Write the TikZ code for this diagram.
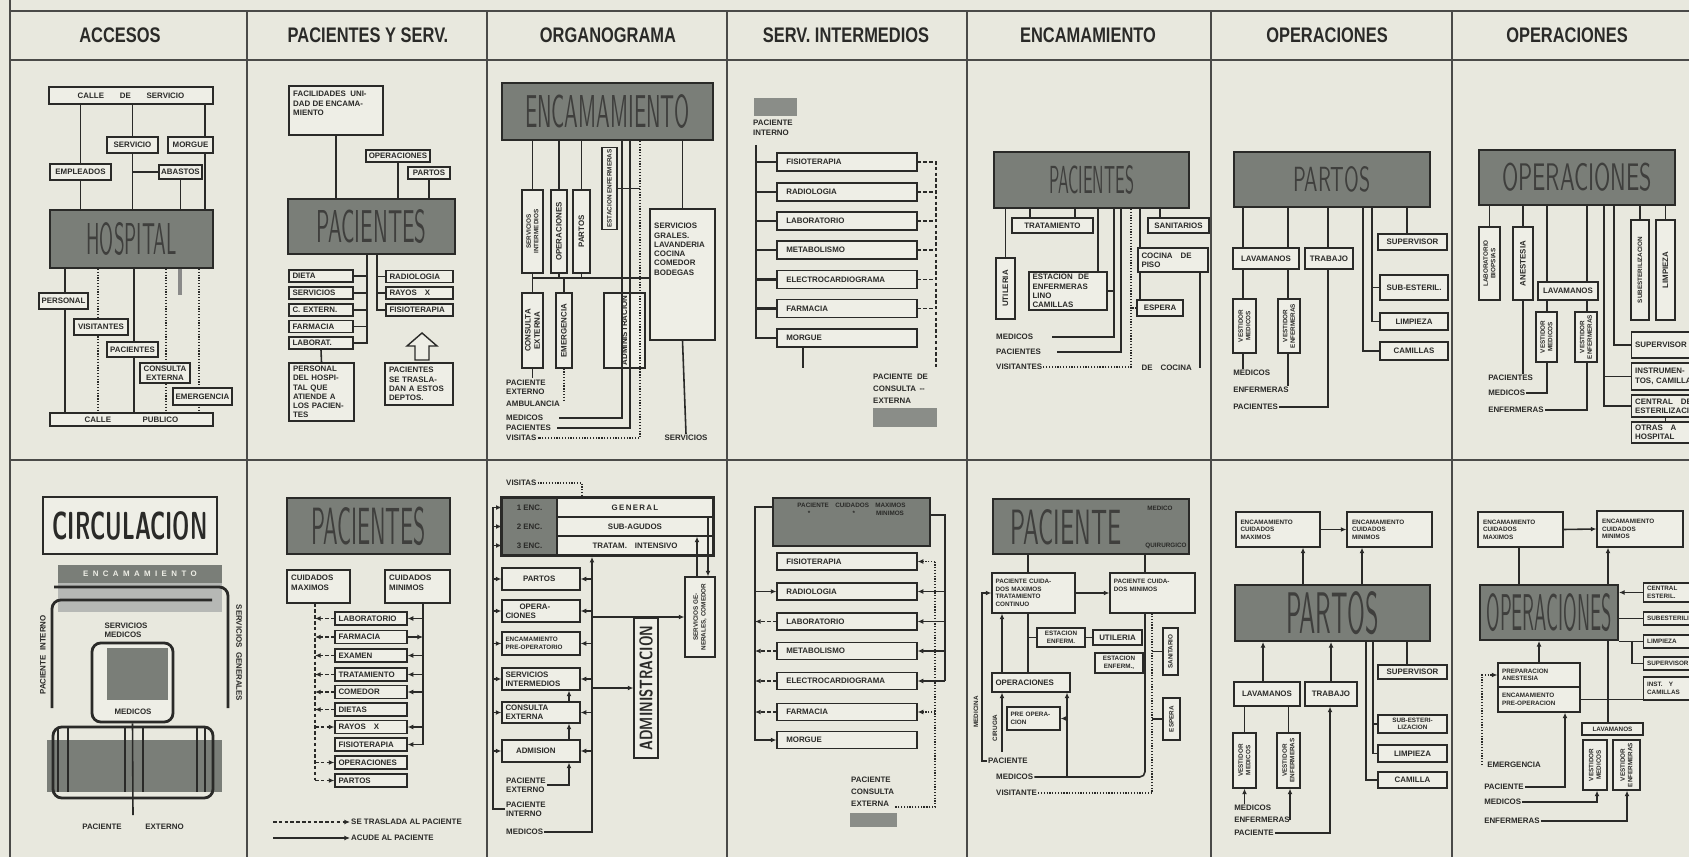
\documentclass[tikz,border=0pt]{standalone}
\usepackage{fontspec}
\usepackage{graphicx}
\usetikzlibrary{arrows.meta, positioning, fit, calc}
\newfontfamily\lblfam{Liberation Sans}
\newfontfamily\headfam{Liberation Sans}[FakeStretch=0.78]
\newcommand{\lblfont}{\lblfam\bfseries\fontsize{4.5}{5.3}\selectfont}
\newcommand{\smfont}{\lblfam\bfseries\fontsize{3.6}{4.3}\selectfont}
\newcommand{\bigword}[3]{\resizebox{#1}{#2}{\sffamily #3}}
\definecolor{paper}{RGB}{232,232,222}
\definecolor{ink}{RGB}{42,42,40}
\definecolor{boxfill}{RGB}{238,238,230}
\definecolor{darkfill}{RGB}{122,126,120}
\definecolor{greyfill}{RGB}{138,141,136}

\begin{document}
\begin{tikzpicture}[
    x=0.02cm, y=-0.02cm,
    sz/.style 2 args={minimum width=#1*0.02cm, minimum height=#2*0.02cm},
    bx/.style={draw=ink, line width=0.7pt, fill=boxfill, font=\lblfont, text=ink,
        inner sep=1pt, align=center},
    lbx/.style={bx, align=left, text width=#1, inner xsep=2pt},
    vbx/.style={bx, rotate=90},
    dk/.style={draw=ink, line width=1.1pt, fill=darkfill, text=ink!90, inner sep=0pt},
    cel/.style={fill=darkfill, font=\lblfont, text=ink, inner sep=0pt},
    gry/.style={fill=greyfill, inner sep=0pt},
    tx/.style={font=\lblfont, text=ink, inner sep=0.5pt, align=left},
    hd/.style={font=\headfam\bfseries\fontsize{12}{12}\selectfont, text=ink},
    frm/.style={draw=ink!85, line width=0.8pt},
    lnk/.style={draw=ink, line width=0.9pt},
    thk/.style={draw=ink, line width=1.6pt, rounded corners=5pt},
    dots/.style={draw=ink, line width=1.1pt, dash pattern=on 0.7pt off 0.9pt},
    dsh/.style={draw=ink, line width=0.7pt, dash pattern=on 2pt off 1.3pt},
    arr/.style={-{Latex[length=3.2pt,width=2.8pt]}}
]
\useasboundingbox (0,0) rectangle (1689,857);
\clip (0,0) rectangle (1689,857);
\fill[paper] (0,0) rectangle (1689,857);

% frame
\draw[frm] (10,0) -- (10,857);
\draw[frm] (10,11) -- (1689,11);
\draw[frm] (10,60) -- (1689,60);
\draw[frm] (10,460) -- (1689,460);
\foreach \cx in {247,487,727,967,1211,1452}
    \draw[frm] (\cx,11) -- (\cx,857);

\node[hd] (h1) at (120,35) {ACCESOS};
\node[hd] (h2) at (368,35) {PACIENTES Y SERV.};
\node[hd] (h3) at (608,35) {ORGANOGRAMA};
\node[hd] (h4) at (846,35) {SERV. INTERMEDIOS};
\node[hd] (h5) at (1088,35) {ENCAMAMIENTO};
\node[hd] (h6) at (1327,35) {OPERACIONES};
\node[hd] (h7) at (1567,35) {OPERACIONES};

% accesos
\node[bx, sz={164}{17}] (cserv) at (131,95.5) {CALLE\qquad DE\qquad SERVICIO};
\node[bx, sz={51}{16}] (servc) at (132.5,145) {SERVICIO};
\node[bx, sz={45}{16}] (morg) at (190.5,145) {MORGUE};
\node[bx, sz={61}{16}] (empl) at (80.5,172) {EMPLEADOS};
\node[bx, sz={43}{14}] (abast) at (180.5,172) {ABASTOS};
\node[dk, sz={163}{58}] (hosp) at (131.5,239) {\bigword{1.8cm}{0.64cm}{HOSPITAL}\hspace{0.38cm}};
\node[bx, sz={163}{13}] (cpub) at (131.5,419.5) {CALLE\qquad\qquad PUBLICO};
\path (205,0) coordinate (x205) (65,0) coordinate (x65) (98,0) coordinate (x98)
      (134,0) coordinate (x134) (166,0) coordinate (x166) (199,0) coordinate (x199)
      (180,295) coordinate (stub1);
\draw[lnk] (cserv.south -| empl) -- (empl.north) (empl.south) -- (hosp.north -| empl);
\draw[lnk] (cserv.south -| servc) -- (servc.north) (servc.south) -- (hosp.north -| servc);
\draw[lnk] (cserv.south -| x205) -- (morg.north -| x205) (morg.south -| x205) -- (hosp.north -| x205);
\draw[lnk] (abast.west) -- (abast.west -| servc) (abast.south) -- (hosp.north -| abast);
\draw[lnk] (hosp.south -| x65) -- (cpub.north -| x65);
\draw[dots] (hosp.south -| x98) -- (cpub.north -| x98);
\draw[lnk] (hosp.south -| x134) -- (cpub.north -| x134);
\draw[dots] (hosp.south -| x166) -- (cpub.north -| x166);
\draw[dots] (hosp.south -| x199) -- (cpub.north -| x199);
\draw[draw=ink!55, line width=2.4pt] (hosp.south -| stub1) -- (stub1);
\node[bx, sz={49}{16}] (pers) at (63.5,301) {PERSONAL};
\node[bx, sz={54}{16}] (visit) at (101,327) {VISITANTES};
\node[bx, sz={51}{15}] (pacs) at (132.5,349.5) {PACIENTES};
\node[bx, sz={50}{20}] (cext) at (165,373) {CONSULTA\\EXTERNA};
\node[bx, sz={59}{17}] (emerg) at (202.5,396.5) {EMERGENCIA};

% pacientes y servicios
\node[bx, sz={94}{49}] (facil) at (336,110.5) {};
\node[tx, anchor=north west] (facilt) at (292,90) {FACILIDADES\ \ UNI-\\DAD DE ENCAMA-\\MIENTO};
\node[bx, sz={64}{12}] (opr2) at (398,156) {OPERACIONES};
\node[bx, sz={42}{12}] (prt2) at (429,173) {PARTOS};
\node[dk, sz={167}{55}] (pac2) at (371.5,226.5) {\bigword{2.2cm}{0.66cm}{PACIENTES}\hspace{0.34cm}};
\draw[lnk] (facil.south) -- (facil.south |- pac2.north);
\draw[lnk] (opr2.south) -- (opr2.south |- pac2.north);
\draw[lnk] (prt2.south) -- (prt2.south |- pac2.north);
\node[lbx={1.14cm}, sz={64}{12}] (dieta) at (321,276) {DIETA};
\node[lbx={1.14cm}, sz={64}{12}] (servs) at (321,293) {SERVICIOS};
\node[lbx={1.14cm}, sz={64}{12}] (cextr) at (321,310) {C. EXTERN.};
\node[lbx={1.14cm}, sz={64}{12}] (farm2) at (321,326.5) {FARMACIA};
\node[lbx={1.14cm}, sz={64}{12}] (labr2) at (321,343) {LABORAT.};
\node[lbx={1.2cm}, sz={67}{12}] (radio2) at (419.5,276.5) {RADIOLOGIA};
\node[lbx={1.2cm}, sz={67}{12}] (rayos2) at (419.5,293) {RAYOS\quad X};
\node[lbx={1.2cm}, sz={67}{12}] (fisio2) at (419.5,310) {FISIOTERAPIA};
\path (367,0) coordinate (x367) (377,0) coordinate (x377);
\draw[lnk] (pac2.south -| x367) |- (labr2.east);
\foreach \b in {dieta,servs,cextr,farm2} \draw[lnk] (\b.east) -- (\b.east -| x367);
\draw[lnk] (pac2.south -| x377) |- (fisio2.west);
\foreach \b in {radio2,rayos2} \draw[lnk] (\b.west) -- (\b.west -| x377);
\node[lbx={1.14cm}, sz={65}{58}] (perso2) at (321.5,392) {PERSONAL\\DEL HOSPI-\\TAL QUE\\ATIENDE A\\LOS PACIEN-\\TES};
\draw[lnk] (labr2.south) -- (perso2.north);
\draw[ink, line width=0.8pt, fill=boxfill] (415,360) -- (415,346) -- (407,346) -- (422,333)
    -- (437,346) -- (429,346) -- (429,360) -- cycle;
\node[lbx={1.2cm}, sz={68}{42}] (trasl) at (419,384) {PACIENTES\\SE TRASLA-\\DAN A ESTOS\\DEPTOS.};

% organograma
\node[dk, sz={211}{57}] (enc3) at (607.5,111.5) {\bigword{3.3cm}{0.66cm}{ENCAMAMIENTO}};
\node[vbx, sz={83}{21}, font=\smfont] (svint) at (532.5,231.5) {SERVICIOS\\INTERMEDIOS};
\node[vbx, sz={83}{16}] (opsv) at (559,231.5) {OPERACIONES};
\node[vbx, sz={83}{17}] (prtv) at (581.5,231.5) {PARTOS};
\node[vbx, sz={79}{15}, font=\smfont] (estenf) at (609.5,188.5) {ESTACION ENFERMERAS};
\node[bx, sz={65}{131}] (svgen) at (682.5,274.5) {};
\node[tx, anchor=north west] (svgent) at (653,222) {SERVICIOS\\GRALES.\\LAVANDERIA\\COCINA\\COMEDOR\\BODEGAS};
\node[vbx, sz={75}{21}] (cons3) at (532.5,330.5) {CONSULTA\\EXTERNA};
\node[vbx, sz={75}{16}] (emer3) at (564,330.5) {EMERGENCIA};
\node[vbx, sz={75}{41}] (adm3) at (624.5,330.5) {ADMINISTRACION};
\node[tx, anchor=west] (pext) at (505,387) {PACIENTE\\EXTERNO};
\node[tx, anchor=west] (ambl) at (505,404) {AMBULANCIA};
\node[tx, anchor=west] (medl) at (505,418) {MEDICOS};
\node[tx, anchor=west] (pacl) at (505,428) {PACIENTES};
\node[tx, anchor=west] (visl) at (505,438) {VISITAS};
\node[tx] (servl) at (686,438) {SERVICIOS};
\path (538,278) coordinate (hz3) (622,0) coordinate (x622) (630,0) coordinate (x630)
      (640,0) coordinate (x640);
\draw[lnk] (enc3.south -| svint) -- (svint.east);
\draw[lnk] (enc3.south -| opsv) -- (opsv.east);
\draw[lnk] (enc3.south -| prtv) -- (prtv.east);
\draw[lnk] (svint.west) |- (svgen.west |- hz3);
\draw[lnk] (opsv.west) -- (opsv.west |- hz3);
\draw[lnk] (prtv.west) -- (prtv.west |- hz3);
\draw[lnk] (cons3.east) -- (cons3.east |- hz3);
\draw[lnk] (emer3.east) -- (emer3.east |- hz3);
\draw[lnk] (cons3.west) -- (cons3.west |- pext.north);
\draw[dots] (emer3.west) -- (emer3.west |- ambl.north);
\draw[lnk] (enc3.south -| svgen) -- (svgen.north);
\draw[lnk] (svgen.south) -- (servl.north);
\draw[lnk, shorten >=0.3cm] (enc3.south -| x622) |- (medl.east);
\draw[lnk, line width=1.2pt, shorten >=0.1cm] (enc3.south -| x630) |- (pacl.east);
\draw[dots] (enc3.south -| x640) |- (visl.east);
\draw[lnk] (estenf.south) -- (estenf.south -| x640);

% servicios intermedios
\node[gry, sz={43}{18}] (gp1) at (775.5,107) {};
\node[tx, anchor=north west] (pint) at (752,119) {PACIENTE\\INTERNO};
\node[lbx={2.64cm}, sz={140}{18}] (fis4) at (847,162) {\hspace{3pt}FISIOTERAPIA};
\node[lbx={2.64cm}, sz={140}{18}] (rad4) at (847,192) {\hspace{3pt}RADIOLOGIA};
\node[lbx={2.64cm}, sz={140}{18}] (lab4) at (847,221) {\hspace{3pt}LABORATORIO};
\node[lbx={2.64cm}, sz={140}{18}] (met4) at (847,250) {\hspace{3pt}METABOLISMO};
\node[lbx={2.64cm}, sz={140}{18}] (ele4) at (847,279.5) {\hspace{3pt}ELECTROCARDIOGRAMA};
\node[lbx={2.64cm}, sz={140}{18}] (far4) at (847,308.5) {\hspace{3pt}FARMACIA};
\node[lbx={2.64cm}, sz={140}{18}] (mor4) at (847,338) {\hspace{3pt}MORGUE};
\path (756,145) coordinate (l4) (936,367) coordinate (r4) (803,368) coordinate (m4);
\draw[lnk] (l4) |- (mor4.west);
\foreach \b in {fis4,rad4,lab4,met4,ele4,far4} \draw[lnk, line width=1.3pt] (\b.west) -- (\b.west -| l4);
\draw[dsh] (fis4.east) -| (r4);
\foreach \b in {rad4,lab4,met4,ele4,far4} \draw[dsh] (\b.east) -- (\b.east -| r4);
\draw[lnk] (mor4.south -| m4) -- (m4);
\node[tx, anchor=north west] (pcons) at (872,373) {PACIENTE\ \ DE\\[1.5pt]CONSULTA\ \,--\\[1.5pt]EXTERNA};
\node[gry, sz={64}{19}] (gp2) at (905,417.5) {};

% encamamiento
\node[dk, sz={195}{56}] (pac5) at (1091.5,180) {\bigword{1.7cm}{0.56cm}{PACIENTES}\hspace{1.46cm}};
\node[bx, sz={81}{15}] (trat5) at (1052.5,225.5) {TRATAMIENTO};
\node[vbx, sz={61}{19}] (util5) at (1005.5,288.5) {UTILERIA};
\node[lbx={1.42cm}, sz={78}{38}] (est5) at (1068,291) {ESTACION\ \ DE\\ENFERMERAS\\LINO\\CAMILLAS};
\node[bx, sz={61}{15}] (san5) at (1178.5,225.5) {SANITARIOS};
\node[lbx={1.26cm}, sz={70}{24}] (coc5) at (1173,260) {COCINA\quad DE\\PISO};
\node[bx, sz={46}{16}] (esp5) at (1160,308) {ESPERA};
\node[tx, anchor=west] (med5) at (995,337) {MEDICOS};
\node[tx, anchor=west] (pcl5) at (995,352) {PACIENTES};
\node[tx, anchor=west] (vis5) at (995,367) {VISITANTES};
\node[tx, anchor=east] (dcoc) at (1193,368) {DE\quad COCINA};
\path (1030,0) coordinate (x1030) (1075,0) coordinate (x1075) (1098,0) coordinate (x1098)
      (1114,0) coordinate (x1114) (1121,0) coordinate (x1121) (1131,0) coordinate (x1131)
      (1140,0) coordinate (x1140) (1160,0) coordinate (x1160) (1200,368) coordinate (dc5);
\draw[lnk] (pac5.south -| x1030) -- (trat5.north -| x1030);
\draw[lnk] (pac5.south -| x1075) -- (trat5.north -| x1075);
\draw[lnk] (pac5.south -| util5) -- (util5.east);
\draw[lnk] (pac5.south -| x1098) -- (est5.north -| x1098);
\draw[lnk, shorten >=0.35cm] (pac5.south -| x1114) |- (med5.east);
\draw[lnk] (est5.east) -- (est5.east -| x1114);
\draw[lnk, line width=1.2pt, shorten >=0.3cm] (pac5.south -| x1121) |- (pcl5.east);
\draw[dots] (pac5.south -| x1131) |- (vis5.east);
\draw[dots] (esp5.west) -- (esp5.west -| x1131);
\draw[lnk] (pac5.south -| x1160) -- (san5.north -| x1160);
\draw[lnk] (pac5.south -| x1140) -- (coc5.north -| x1140);
\draw[lnk] (coc5.south -| x1140) -- (esp5.north -| x1140);
\draw[lnk] (coc5.south -| dc5) -- (dc5);

% operaciones - partos
\node[dk, sz={196}{55}] (prt6) at (1332,179.5) {\bigword{1.54cm}{0.5cm}{PARTOS}\hspace{1.08cm}};
\node[bx, sz={66}{21}] (lav6) at (1266,258.5) {LAVAMANOS};
\node[bx, sz={48}{21}] (trb6) at (1329,258.5) {TRABAJO};
\node[bx, sz={69}{16}] (sup6) at (1412.5,242) {SUPERVISOR};
\node[bx, sz={68}{25}] (sub6) at (1414,287.5) {SUB-ESTERIL.};
\node[bx, sz={68}{17}] (lim6) at (1414,321.5) {LIMPIEZA};
\node[bx, sz={68}{18}] (cam6) at (1414,351) {CAMILLAS};
\node[vbx, sz={54}{23}, font=\smfont] (vm6) at (1244.5,326) {VESTIDOR\\MEDICOS};
\node[vbx, sz={54}{22}, font=\smfont] (ve6) at (1289,326) {VESTIDOR\\ENFERMERAS};
\node[tx, anchor=west] (med6) at (1232,373) {MEDICOS};
\node[tx, anchor=west] (enf6) at (1232,390) {ENFERMERAS};
\node[tx, anchor=west] (pcl6) at (1232,407) {PACIENTES};
\path (1243,0) coordinate (x1243) (1288,0) coordinate (x1288) (1328,0) coordinate (x1328)
      (1363,0) coordinate (x1363) (1372,0) coordinate (x1372) (1407,0) coordinate (x1407);
\draw[lnk] (prt6.south -| x1243) -- (lav6.north -| x1243) (lav6.south -| x1243) -- (vm6.east -| x1243);
\draw[lnk] (vm6.west -| x1243) -- (med6.north -| x1243);
\draw[lnk] (prt6.south -| x1288) -- (lav6.north -| x1288) (lav6.south -| x1288) -- (ve6.east -| x1288);
\draw[lnk] (ve6.west -| x1288) -- (enf6.north -| x1288);
\draw[lnk] (prt6.south -| x1328) -- (trb6.north -| x1328) (trb6.south -| x1328) |- (pcl6.east);
\draw[lnk] (prt6.south -| x1407) -- (sup6.north -| x1407);
\draw[lnk] (prt6.south -| x1372) |- (lim6.west) (sub6.west) -- (sub6.west -| x1372);
\draw[lnk] (prt6.south -| x1363) |- (cam6.west);

% operaciones
\node[dk, sz={196}{55}] (op7) at (1577,177.5) {\bigword{3.0cm}{0.55cm}{OPERACIONES}\hspace{0.6cm}};
\node[vbx, sz={73}{21}, font=\smfont] (lab7) at (1489.5,263.5) {LABORATORIO\\BIOPSIAS};
\node[vbx, sz={73}{20}] (ane7) at (1523,263.5) {ANESTESIA};
\node[vbx, sz={100}{18}, font=\smfont] (sbe7) at (1640,270) {SUBESTERILIZACION};
\node[vbx, sz={100}{19}] (lim7) at (1665.5,270) {LIMPIEZA};
\node[bx, sz={60}{18}] (lav7) at (1568,291) {LAVAMANOS};
\node[vbx, sz={50}{21}, font=\smfont] (vm7) at (1546.5,337) {VESTIDOR\\MEDICOS};
\node[vbx, sz={50}{22}, font=\smfont] (ve7) at (1586,337) {VESTIDOR\\ENFERMERAS};
\node[lbx={1.5cm}, sz={80}{26}, anchor=west] (sup7) at (1631,345) {SUPERVISOR};
\node[lbx={1.5cm}, sz={80}{27}, anchor=west] (ins7) at (1631,376.5) {INSTRUMEN-\\TOS, CAMILLAS};
\node[lbx={1.5cm}, sz={80}{22}, anchor=west] (cen7) at (1631,406) {CENTRAL\quad DE\\ESTERILIZACION};
\node[lbx={1.5cm}, sz={80}{21}, anchor=west] (otr7) at (1631,432.5) {OTRAS\quad A\\HOSPITAL};
\node[tx, anchor=west] (pcl7) at (1487,378) {PACIENTES};
\node[tx, anchor=west] (med7) at (1487,393) {MEDICOS};
\node[tx, anchor=west] (enf7) at (1487,410) {ENFERMERAS};
\path (1547,0) coordinate (x1547) (1587,0) coordinate (x1587) (1604,0) coordinate (x1604)
      (1614,0) coordinate (x1614);
\draw[lnk] (op7.south -| lab7) -- (lab7.east);
\draw[lnk] (op7.south -| ane7) -- (ane7.east);
\draw[lnk] (op7.south -| sbe7) -- (sbe7.east);
\draw[lnk] (op7.south -| lim7) -- (lim7.east);
\draw[lnk] (op7.south -| x1547) -- (lav7.north -| x1547) (lav7.south -| x1547) -- (vm7.east -| x1547);
\draw[lnk] (op7.south -| x1587) -- (lav7.north -| x1587) (lav7.south -| x1587) -- (ve7.east -| x1587);
\draw[lnk] (ane7.west) -- (ane7.west |- pcl7.north);
\draw[lnk] (vm7.west -| x1547) |- (med7.east);
\draw[lnk] (ve7.west -| x1587) |- (enf7.east);
\draw[lnk] (op7.south -| x1614) |- (sup7.west);
\draw[lnk] (op7.south -| x1604) |- (cen7.west) (ins7.west) -- (ins7.west -| x1604);
\draw[lnk] (cen7.south -| lim7) -- (otr7.north -| lim7);

% circulacion
\node[bx, sz={174}{57}, line width=1.6pt] (circ) at (130,525.5) {\bigword{3.1cm}{0.56cm}{CIRCULACION}};
\node[cel, sz={164}{18}, text=boxfill] (encbar) at (140,574) {E\ \ N\ \ C\ \ A\ \ M\ \ A\ \ M\ \ I\ \ E\ \ N\ \ T\ \ O};
\node[fill=darkfill!55, sz={164}{29}, inner sep=0pt] (encbnd) at (140,597.5) {};
\draw[thk] (52,708) -- (52,600) -- (212,600);
\draw[thk] (228,708) -- (228,587) -- (54,587);
\node[tx, rotate=90] (pint1) at (43,655) {PACIENTE\ \ INTERNO};
\node[tx, rotate=-90] (sgen1) at (239,653) {SERVICIOS\ \ GENERALES};
\node[tx] (smed) at (126,630) {SERVICIOS\\MEDICOS};
\node[bx, sz={81}{79}, rounded corners=5pt, line width=1.6pt] (medb) at (132.5,682.5) {};
\node[cel, sz={61}{52}] (medsq) at (137.5,674) {};
\node[tx] (medt) at (133,712) {MEDICOS};
\node[cel, sz={175}{52}] (extbar) at (134.5,766) {};
\draw[thk] (53,727) rectangle (213,798);
\foreach \vx in {58,68,125,143,197,205} \draw[ink, line width=1.5pt] (\vx,727) -- (\vx,792);
\coordinate (pe1) at (133,815);
\draw[lnk] (medb.south) -- (pe1);
\node[tx] (pext1) at (133,827) {PACIENTE\qquad\quad EXTERNO};

% pacientes
\node[dk, sz={163}{56}] (pac2b) at (368.5,526) {\bigword{2.3cm}{0.75cm}{PACIENTES}\hspace{0.44cm}};
\node[bx, sz={63}{33}] (cmax2) at (318.5,586.5) {};
\node[tx, anchor=north west] (cmax2t) at (290,574) {CUIDADOS\\MAXIMOS};
\node[bx, sz={65}{33}] (cmin2) at (417.5,586.5) {};
\node[tx, anchor=north west] (cmin2t) at (388,574) {CUIDADOS\\MINIMOS};
\foreach \n/\t/\yy in {b1/LABORATORIO/618.5, b2/FARMACIA/637, b3/EXAMEN/655.5,
    b4/TRATAMIENTO/674.5, b5/COMEDOR/692, b6/DIETAS/709.5, b7/RAYOS\quad X/727,
    b8/FISIOTERAPIA/744.5, b9/OPERACIONES/762.5, b10/PARTOS/780.5}
  \node[lbx={1.3cm}, sz={72}{13}] (\n) at (371,\yy) {\t};
\path (315,0) coordinate (x315) (423,0) coordinate (x423) (315,780) coordinate (dl2);
\draw[dsh] (cmax2.south -| x315) -- (dl2);
\foreach \n in {b1,b2,b3,b4,b5,b6} \draw[dsh, arr] (\n.west) -- (\n.west -| x315);
\foreach \n in {b7,b9,b10} \draw[dsh, arr] (\n.west -| x315) -- (\n.west);
\draw[lnk, arr] (cmin2.south -| x423) |- (b8.east);
\foreach \n in {b1,b3,b4,b5,b7} \draw[lnk, arr] (\n.east -| x423) -- (\n.east);
\draw[lnk, arr] (b2.east) -- (b2.east -| x423);
\path (273,822) coordinate (lg1) (273,838) coordinate (lg2);
\node[tx, anchor=west] (leg1) at (350,822) {SE TRASLADA AL PACIENTE};
\node[tx, anchor=west] (leg2) at (350,838) {ACUDE AL PACIENTE};
\draw[dsh, arr] (lg1) -- (leg1.west);
\draw[lnk, arr] (lg2) -- (leg2.west);

% organograma (2)
\node[tx, anchor=west] (vis3) at (505,483) {VISITAS};
\node[cel, sz={55}{19}] (c31) at (529.5,507.5) {1 ENC.};
\node[cel, sz={55}{19}] (c32) at (529.5,526.5) {2 ENC.};
\node[cel, sz={55}{19}] (c33) at (529.5,545.5) {3 ENC.};
\node[bx, sz={156}{19}] (r31) at (635,507.5) {G\,E\,N\,E\,R\,A\,L};
\node[bx, sz={156}{19}] (r32) at (635,526.5) {SUB-AGUDOS};
\node[bx, sz={156}{19}] (r33) at (635,545.5) {TRATAM.\quad INTENSIVO};
\node[draw=ink, line width=1.4pt, inner sep=0pt, fit=(c31)(r33)] (encb) {};
\path (493,0) coordinate (x493) (592,0) coordinate (x592) (569,0) coordinate (x569)
      (697,0) coordinate (x697) (708,0) coordinate (x708) (582,0) coordinate (x582);
\draw[dots] (vis3.east) -| (encb.north -| x582);
\node[lbx={1.42cm}, sz={78}{22}] (prt3) at (541,579) {\hspace{10pt}PARTOS};
\node[lbx={1.42cm}, sz={78}{22}] (ops3) at (541,611) {\hspace{8pt}OPERACIONES};
\node[lbx={1.42cm}, sz={78}{23}, font=\smfont] (epo3) at (541,643.5) {ENCAMAMIENTO\\PRE-OPERATORIO};
\node[lbx={1.42cm}, sz={78}{22}] (svi3) at (541,679) {SERVICIOS\\INTERMEDIOS};
\node[lbx={1.42cm}, sz={78}{21}] (cex3) at (541,712.5) {CONSULTA\\EXTERNA};
\node[lbx={1.42cm}, sz={78}{22}] (adi3) at (541,751) {\hspace{6pt}ADMISION};
\node[vbx, sz={80}{30}, font=\smfont] (sgc3) at (700,617) {SERVICIOS GE-\\NERALES, COMEDOR};
\node[vbx, sz={140}{24}] (adm3b) at (646,688) {\resizebox{2.5cm}{0.26cm}{\sffamily ADMINISTRACION}};
\node[tx, anchor=west] (pex3) at (505,785) {PACIENTE\\EXTERNO};
\node[tx, anchor=west] (pin3) at (505,809) {PACIENTE\\INTERNO};
\node[tx, anchor=west] (med3) at (505,832) {MEDICOS};
\draw[lnk] (c31.west -| x493) |- (pin3.west);
\foreach \n in {c31,c32,c33,prt3,ops3,epo3,svi3,cex3,adi3} \draw[lnk, arr] (\n.west -| x493) -- (\n.west);
\draw[lnk, arr] (med3.east) -| (encb.south -| x592);
\foreach \n in {prt3,ops3,epo3,svi3,cex3,adi3} \draw[lnk, arr] (\n.east -| x592) -- (\n.east);
\draw[lnk, arr] (sgc3.north -| x592) -- (sgc3.north);
\draw[lnk, arr] (adm3b.north -| x592) -- (adm3b.north);
\draw[lnk, arr] (sgc3.east -| x697) -- (r32.south -| x697);
\draw[lnk, arr] (r31.south -| x708) -- (sgc3.east -| x708);
\draw[lnk, arr] (cex3.north -| x569) -- (svi3.south -| x569);
\draw[lnk, arr] (adi3.north -| x569) -- (cex3.south -| x569);
\draw[lnk, arr] (pex3.east) -| (adi3.south -| x569);

% servicios intermedios (2)
\node[dk, sz={157}{48}] (pcm4) at (851.5,522) {};
\node[tx, anchor=north, font=\smfont] (pcm4t) at (851.5,502) {PACIENTE\quad CUIDADOS\quad MAXIMOS\\
    \hspace{6pt}*\hspace{24pt}*\hspace{12pt}MINIMOS};
\foreach \n/\t/\yy in {f4b/FISIOTERAPIA/561.5, r4b/RADIOLOGIA/591.5, l4b/LABORATORIO/621.5,
    m4b/METABOLISMO/651, e4b/ELECTROCARDIOGRAMA/681, p4b/FARMACIA/712, g4b/MORGUE/740}
  \node[lbx={2.64cm}, sz={140}{17}] (\n) at (847,\yy) {\hspace{3pt}\t};
\path (755,507) coordinate (lb4) (945,515) coordinate (rb4) (935,807) coordinate (db4);
\draw[lnk, arr] (pcm4.west |- lb4) -- (lb4) |- (g4b.west);
\draw[lnk, arr] (r4b.west -| lb4) -- (r4b.west);
\foreach \n in {l4b,m4b,e4b,p4b} \draw[dsh, arr] (\n.west) -- (\n.west -| lb4);
\draw[lnk] (pcm4.east |- rb4) -- (rb4) -- (rb4 |- e4b.east);
\foreach \n in {r4b,l4b,m4b,e4b} \draw[lnk, arr] (\n.east -| rb4) -- (\n.east);
\node[tx, anchor=north west] (pc4) at (850,776) {PACIENTE\\[1.5pt]CONSULTA\\[1.5pt]EXTERNA};
\node[gry, sz={47}{14}] (gp3) at (873.5,820) {};
\draw[dots] (f4b.east -| db4) -- (db4) -- (pc4.south east |- db4);
\foreach \n in {f4b,p4b} \draw[dots, arr] (\n.east -| db4) -- (\n.east);

% encamamiento (2)
\node[dk, sz={196}{55}] (pac5b) at (1091,526.5) {};
\node[inner sep=0pt, text=ink!90] (pac5bt) at (1066,527) {\bigword{2.22cm}{0.7cm}{PACIENTE}};
\node[tx, font=\smfont] (medq) at (1160,508) {MEDICO};
\node[tx, font=\smfont] (quir) at (1166,546) {QUIRURGICO};
\node[lbx={1.52cm}, sz={83}{40}, font=\smfont] (cmx5) at (1033.5,593) {PACIENTE CUIDA-\\DOS MAXIMOS\\TRATAMIENTO\\CONTINUO};
\node[lbx={1.55cm}, sz={85}{40}, font=\smfont] (cmn5) at (1152.5,593) {PACIENTE CUIDA-\\DOS MINIMOS\\\mbox{}\\\mbox{}};
\node[bx, sz={48}{19}, font=\smfont] (es5a) at (1061,637.5) {ESTACION\\ENFERM.};
\node[bx, sz={49}{15}] (ut5b) at (1117.5,637.5) {UTILERIA};
\node[bx, sz={48}{20}, font=\smfont] (es5b) at (1119,663) {ESTACION\\ENFERM.,};
\node[lbx={1.42cm}, sz={78}{19}] (op5b) at (1031,682.5) {OPERACIONES};
\node[lbx={0.92cm}, sz={53}{23}, font=\smfont] (pre5) at (1033.5,718.5) {PRE OPERA-\\CION};
\node[vbx, sz={47}{15}, font=\smfont] (san5b) at (1170.5,651.5) {SANITARIO};
\node[vbx, sz={42}{17}, font=\smfont] (esp5b) at (1171.5,719) {ESPERA};
\node[tx, rotate=90, font=\smfont] (mdc5) at (976,712) {MEDICINA};
\node[tx, rotate=90, font=\smfont] (cir5) at (995,728) {CIRUGIA};
\node[tx, anchor=west] (pa5b) at (987,761) {PACIENTE};
\node[tx, anchor=west] (md5b) at (995,777) {MEDICOS};
\node[tx, anchor=west] (vs5b) at (995,793) {VISITANTE};
\path (1028,0) coordinate (x1028) (1145,0) coordinate (x1145) (1152,0) coordinate (x1152)
      (1002,752) coordinate (p5up) (982,0) coordinate (x982) (1067,0) coordinate (x1067)
      (1002,0) coordinate (x1002);
\draw[lnk] (pac5b.south -| x1028) -- (cmx5.north -| x1028);
\draw[lnk] (pac5b.south -| x1145) -- (cmn5.north -| x1145);
\draw[lnk, arr] (cmx5.east) -- (cmn5.west);
\draw[lnk] (cmx5.south -| x1028) -- (op5b.north -| x1028);
\draw[lnk] (es5a.west) -- (es5a.west -| x1028);
\draw[lnk] (es5a.east) -- (ut5b.west);
\draw[lnk, arr] (op5b.north -| x1002) -- (cmx5.south -| x1002);
\draw[lnk, arr] (p5up) -- (op5b.south -| p5up);
\draw[lnk, arr] (pa5b.west) -| (x982 |- cmx5.west) -- (cmx5.west);
\draw[lnk, rounded corners=3pt] (md5b.east) -| (cmn5.south -| x1145);
\draw[lnk, arr] (md5b.east -| x1067) -- (op5b.south -| x1067);
\draw[lnk, arr] (pre5.east -| x1067) -- (pre5.east);
\draw[lnk] (es5b.east) -- (es5b.east -| x1145);
\draw[dots] (vs5b.east) -| (cmn5.south -| x1152);
\draw[lnk] (san5b.north) -- (san5b.north -| x1152);
\draw[lnk] (esp5b.north) -- (esp5b.north -| x1152);

% partos
\node[lbx={1.5cm}, sz={84}{35}, font=\smfont] (emx6) at (1278,529.5) {ENCAMAMIENTO\\CUIDADOS\\MAXIMOS};
\node[lbx={1.5cm}, sz={85}{35}, font=\smfont] (emn6) at (1389.5,529.5) {ENCAMAMIENTO\\CUIDADOS\\MINIMOS};
\node[dk, sz={195}{56}] (prt6b) at (1332.5,613) {\bigword{1.86cm}{0.84cm}{PARTOS}\hspace{1.04cm}};
\node[bx, sz={66}{24}] (lav6b) at (1267,694) {LAVAMANOS};
\node[bx, sz={52}{24}] (trb6b) at (1331,694) {TRABAJO};
\node[bx, sz={69}{14}] (sup6b) at (1412.5,672) {SUPERVISOR};
\node[bx, sz={69}{18}, font=\smfont] (sub6b) at (1412.5,724) {SUB-ESTERI-\\LIZACION};
\node[bx, sz={69}{17}] (lim6b) at (1412.5,753.5) {LIMPIEZA};
\node[bx, sz={69}{16}] (cam6b) at (1412.5,780) {CAMILLA};
\node[vbx, sz={55}{23}, font=\smfont] (vm6b) at (1244.5,760.5) {VESTIDOR\\MEDICOS};
\node[vbx, sz={55}{23}, font=\smfont] (ve6b) at (1288.5,760.5) {VESTIDOR\\ENFERMERAS};
\node[tx, anchor=west] (md6b) at (1233,808) {MEDICOS};
\node[tx, anchor=west] (en6b) at (1233,820) {ENFERMERAS};
\node[tx, anchor=west] (pa6b) at (1233,833) {PACIENTE};
\path (1303,0) coordinate (x1303) (1362,0) coordinate (x1362) (1263,0) coordinate (x1263)
      (1366,0) coordinate (x1366) (1373,0) coordinate (x1373) (1290,820) coordinate (en6up)
      (1330,0) coordinate (x1330);
\draw[lnk, arr] (emx6.east) -- (emn6.west);
\draw[lnk, arr] (prt6b.north -| x1303) -- (emx6.south -| x1303);
\draw[lnk, arr] (prt6b.north -| x1362) -- (emn6.south -| x1362);
\draw[lnk, arr] (lav6b.north -| x1263) -- (prt6b.south -| x1263);
\draw[lnk, arr] (trb6b.north) -- (prt6b.south -| trb6b);
\draw[lnk] (prt6b.south -| x1407) -- (sup6b.north -| x1407);
\draw[lnk] (prt6b.south -| x1373) |- (lim6b.west) (sub6b.west) -- (sub6b.west -| x1373);
\draw[lnk] (prt6b.south -| x1366) |- (cam6b.west);
\draw[lnk] (lav6b.south -| vm6b) -- (vm6b.east);
\draw[lnk] (lav6b.south -| ve6b) -- (ve6b.east);
\draw[lnk, arr] (md6b.north -| vm6b) -- (vm6b.west);
\draw[lnk, arr] (en6up) -- (ve6b.west -| en6up);
\draw[lnk, arr] (pa6b.east) -| (trb6b.south -| x1330);

% operaciones (2)
\node[lbx={1.5cm}, sz={85}{35}, font=\smfont] (emx7) at (1520.5,529.5) {ENCAMAMIENTO\\CUIDADOS\\MAXIMOS};
\node[lbx={1.52cm}, sz={86}{36}, font=\smfont] (emn7) at (1640,529) {ENCAMAMIENTO\\CUIDADOS\\MINIMOS};
\node[dk, sz={138}{55}] (op7b) at (1549,612.5) {\bigword{2.5cm}{0.74cm}{OPERACIONES}};
\node[lbx={1.4cm}, sz={76}{19}, anchor=west, font=\smfont] (cst7) at (1643,592.5) {CENTRAL\\ESTERIL.};
\node[lbx={1.4cm}, sz={76}{13}, anchor=west, font=\smfont] (sbe7b) at (1643,618.5) {SUBESTERILIZACION};
\node[lbx={1.4cm}, sz={76}{13}, anchor=west, font=\smfont] (lim7b) at (1643,641.5) {LIMPIEZA};
\node[lbx={1.4cm}, sz={76}{13}, anchor=west, font=\smfont] (sup7b) at (1643,663.5) {SUPERVISOR};
\node[lbx={1.4cm}, sz={76}{23}, anchor=west, font=\smfont] (ins7b) at (1643,688.5) {INST.\quad Y\\CAMILLAS};
\node[lbx={1.48cm}, sz={82}{24}, font=\smfont] (pan7) at (1539,675) {PREPARACION\\ANESTESIA};
\node[lbx={1.48cm}, sz={82}{25}, font=\smfont] (epo7) at (1539,699.5) {ENCAMAMIENTO\\PRE-OPERACION};
\node[bx, sz={61}{12}, font=\smfont] (lav7b) at (1612.5,729) {LAVAMANOS};
\node[vbx, sz={50}{24}, font=\smfont] (vm7b) at (1595,765) {VESTIDOR\\MEDICOS};
\node[vbx, sz={50}{27}, font=\smfont] (ve7b) at (1626.5,765) {VESTIDOR\\ENFERMERAS};
\node[tx, anchor=west] (em7) at (1486,765) {EMERGENCIA};
\node[tx, anchor=west] (pa7) at (1483,787) {PACIENTE};
\node[tx, anchor=west] (md7) at (1483,802) {MEDICOS};
\node[tx, anchor=west] (en7) at (1483,821) {ENFERMERAS};
\path (1519,0) coordinate (x1519) (1608,0) coordinate (x1608) (1632,0) coordinate (x1632)
      (1565,0) coordinate (x1565) (1597,0) coordinate (x1597) (1627,0) coordinate (x1627)
      (1482,765) coordinate (em7c);
\draw[lnk, arr] (emx7.east) -- (emn7.west);
\draw[lnk] (emx7.south -| x1519) -- (op7b.north -| x1519);
\draw[lnk, arr] (op7b.north -| x1608) -- (emn7.south -| x1608);
\draw[lnk, arr] (cst7.west) -- (cst7.west -| op7b.east);
\draw[lnk] (op7b.east |- sbe7b.west) -- (sbe7b.west);
\draw[lnk] (op7b.east |- lim7b.west) -- (lim7b.west);
\draw[lnk] (op7b.south -| x1632) |- (sup7b.west);
\draw[lnk, arr] (pan7.north) -- (op7b.south -| pan7);
\draw[lnk] (epo7.east) -- (epo7.east -| ins7b.west);
\draw[lnk] (lav7b.north -| x1608) -- (op7b.south -| x1608);
\draw[dots, arr] (em7c) |- (pan7.west);
\draw[lnk, arr] (pa7.east) -| (epo7.south -| x1565);
\draw[lnk, arr] (md7.east) -| (vm7b.west -| x1597);
\draw[lnk, arr] (en7.east) -| (ve7b.west -| x1627);
\end{tikzpicture}
\end{document}
